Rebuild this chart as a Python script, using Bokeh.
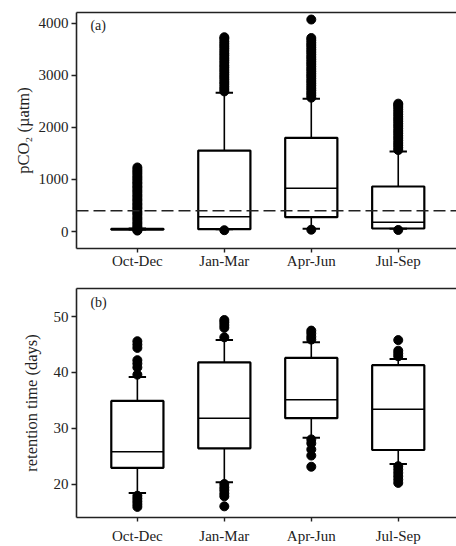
from bokeh.plotting import figure
from bokeh.layouts import column
from bokeh.models import Range1d, FixedTicker, LinearAxis, Span, Label, ColumnDataSource
from bokeh.embed import file_html
from bokeh.resources import INLINE

categories = ["Oct-Dec", "Jan-Mar", "Apr-Jun", "Jul-Sep"]
cat_pos = [1, 2, 3, 4]

# panel (a): pCO2 (uatm)
pco2_lower = [40, 45, 52, 52]
pco2_q1 = [38, 45, 275, 58]
pco2_median = [45, 282, 831, 179]
pco2_q3 = [52, 1555, 1798, 864]
pco2_upper = [60, 2662, 2547, 1536]
pco2_out_octdec = [18, 28, 72, 105, 148, 186, 232, 268, 315, 352, 388, 436, 470, 512, 548, 594,
                   628, 672, 708, 753, 790, 834, 868, 912, 948, 992, 1030, 1068, 1112, 1150, 1188, 1230]
pco2_out_janmar = [25, 2690, 2735, 2780, 2830, 2872, 2920, 2965, 3010, 3055, 3100, 3148, 3190,
                   3240, 3285, 3330, 3378, 3420, 3468, 3515, 3560, 3605, 3650, 3700, 3730]
pco2_out_aprjun = [35, 2570, 2615, 2660, 2708, 2752, 2800, 2845, 2890, 2938, 2985, 3030, 3075,
                   3120, 3168, 3215, 3260, 3305, 3350, 3398, 3445, 3490, 3535, 3580, 3625, 3672, 3715, 4070]
pco2_out_julsep = [30, 1565, 1610, 1655, 1700, 1748, 1795, 1840, 1885, 1930, 1978, 2025, 2070,
                   2115, 2160, 2205, 2250, 2298, 2345, 2390, 2430, 2455]
pco2_ticks = [0, 1000, 2000, 3000, 4000]
pco2_reference = 400

# panel (b): retention time (days)
rt_lower = [18.4, 20.3, 28.3, 23.6]
rt_q1 = [22.9, 26.4, 31.8, 26.1]
rt_median = [25.8, 31.8, 35.1, 33.4]
rt_q3 = [34.9, 41.8, 42.6, 41.3]
rt_upper = [39.2, 45.8, 45.4, 42.4]
rt_out_octdec = [45.6, 45.0, 44.4, 42.2, 41.6, 40.9, 39.6, 17.9, 17.4, 16.9, 16.4, 15.9]
rt_out_janmar = [49.4, 49.0, 48.5, 48.0, 46.3, 20.0, 19.4, 18.9, 18.3, 17.8, 16.0]
rt_out_aprjun = [47.5, 47.0, 46.4, 45.9, 28.0, 27.3, 26.2, 25.1, 23.1]
rt_out_julsep = [45.8, 43.9, 43.4, 42.9, 23.2, 22.6, 22.0, 21.4, 20.8, 20.2]
rt_ticks = [20, 30, 40, 50]

FONT = "Liberation Serif"


def make_panel(height, y_start, y_end, ticks, ylabel, label_standoff,
               lower, q1, med, q3, upper, outlier_lists, tag, tag_y,
               min_top, min_bottom, x_standoff, ref=None):
    p = figure(width=456, height=height, x_range=Range1d(0.30, 4.67),
               y_range=Range1d(y_start, y_end), output_backend="svg",
               toolbar_location=None, min_border_left=76, min_border_right=0,
               min_border_top=min_top, min_border_bottom=min_bottom)
    p.outline_line_color = None
    p.xgrid.visible = False
    p.ygrid.visible = False

    xa = p.below[0]
    ya = p.left[0]
    xa.ticker = FixedTicker(ticks=cat_pos)
    xa.major_label_overrides = {c: n for c, n in zip(cat_pos, categories)}
    ya.ticker = FixedTicker(ticks=ticks)
    ya.axis_label = ylabel
    ya.axis_label_standoff = label_standoff
    for ax in (xa, ya):
        ax.major_label_text_font = FONT
        ax.major_label_text_font_size = "15px"
        ax.major_label_text_color = "#222222"
        ax.axis_label_text_font = FONT
        ax.axis_label_text_font_size = "16.5px"
        ax.axis_label_text_font_style = "normal"
        ax.axis_label_text_color = "#222222"
        ax.axis_line_width = 1.6
        ax.axis_line_color = "#222222"
        ax.major_tick_line_width = 1.4
        ax.major_tick_line_color = "#222222"
        ax.major_tick_out = 5
        ax.major_tick_in = 0
        ax.minor_tick_out = 0
        ax.minor_tick_in = 0
        ax.major_label_standoff = 3
    xa.major_tick_out = 4
    xa.major_label_standoff = x_standoff

    # top border line via an empty axis
    top = LinearAxis(ticker=FixedTicker(ticks=[]), major_label_text_font_size="0px",
                     major_tick_out=0, major_tick_in=0, minor_tick_out=0, minor_tick_in=0,
                     major_label_standoff=0, axis_line_width=1.6, axis_line_color="#222222")
    p.add_layout(top, "above")

    if ref is not None:
        p.add_layout(Span(location=ref, dimension="width", line_color="#222222",
                          line_width=1.5, line_dash="12 5"))

    src = ColumnDataSource(dict(
        x=cat_pos, lower=lower, q1=q1, med=med, q3=q3, upper=upper,
        left=[c - 0.3 for c in cat_pos], right=[c + 0.3 for c in cat_pos],
        cl=[c - 0.1 for c in cat_pos], cr=[c + 0.1 for c in cat_pos]))

    # whiskers
    p.segment(x0="x", y0="q3", x1="x", y1="upper", source=src, line_color="black", line_width=1.6)
    p.segment(x0="x", y0="q1", x1="x", y1="lower", source=src, line_color="black", line_width=1.6)
    # boxes
    p.quad(left="left", right="right", bottom="q1", top="q3", source=src,
           fill_color="white", line_color="black", line_width=2.2)
    # medians
    p.segment(x0="left", y0="med", x1="right", y1="med", source=src,
              line_color="black", line_width=1.5)
    # caps
    p.segment(x0="cl", y0="upper", x1="cr", y1="upper", source=src, line_color="black", line_width=2)
    p.segment(x0="cl", y0="lower", x1="cr", y1="lower", source=src, line_color="black", line_width=2)

    ox, oy = [], []
    for c, vals in zip(cat_pos, outlier_lists):
        ox += [c] * len(vals)
        oy += vals
    p.scatter(ox, oy, size=9, fill_color="black", line_color="black")

    p.add_layout(Label(x=0.46, y=tag_y, text=tag, text_baseline="top",
                       text_font=FONT, text_font_size="14px", text_color="#222222"))
    return p


p1 = make_panel(278, -326, 4205, pco2_ticks, "pCO\u2082 (\u00b5atm)", 3,
                pco2_lower, pco2_q1, pco2_median, pco2_q3, pco2_upper,
                [pco2_out_octdec, pco2_out_janmar, pco2_out_aprjun, pco2_out_julsep],
                "(a)", 4090, 12, 30, 0, ref=pco2_reference)
p2 = make_panel(268, 14.0, 55.05, rt_ticks, "retention time (days)", 10,
                rt_lower, rt_q1, rt_median, rt_q3, rt_upper,
                [rt_out_octdec, rt_out_janmar, rt_out_aprjun, rt_out_julsep],
                "(b)", 53.9, 10, 28, 6)

p = column(p1, p2, spacing=0)
open("out.html", "w").write(file_html(p, INLINE))
